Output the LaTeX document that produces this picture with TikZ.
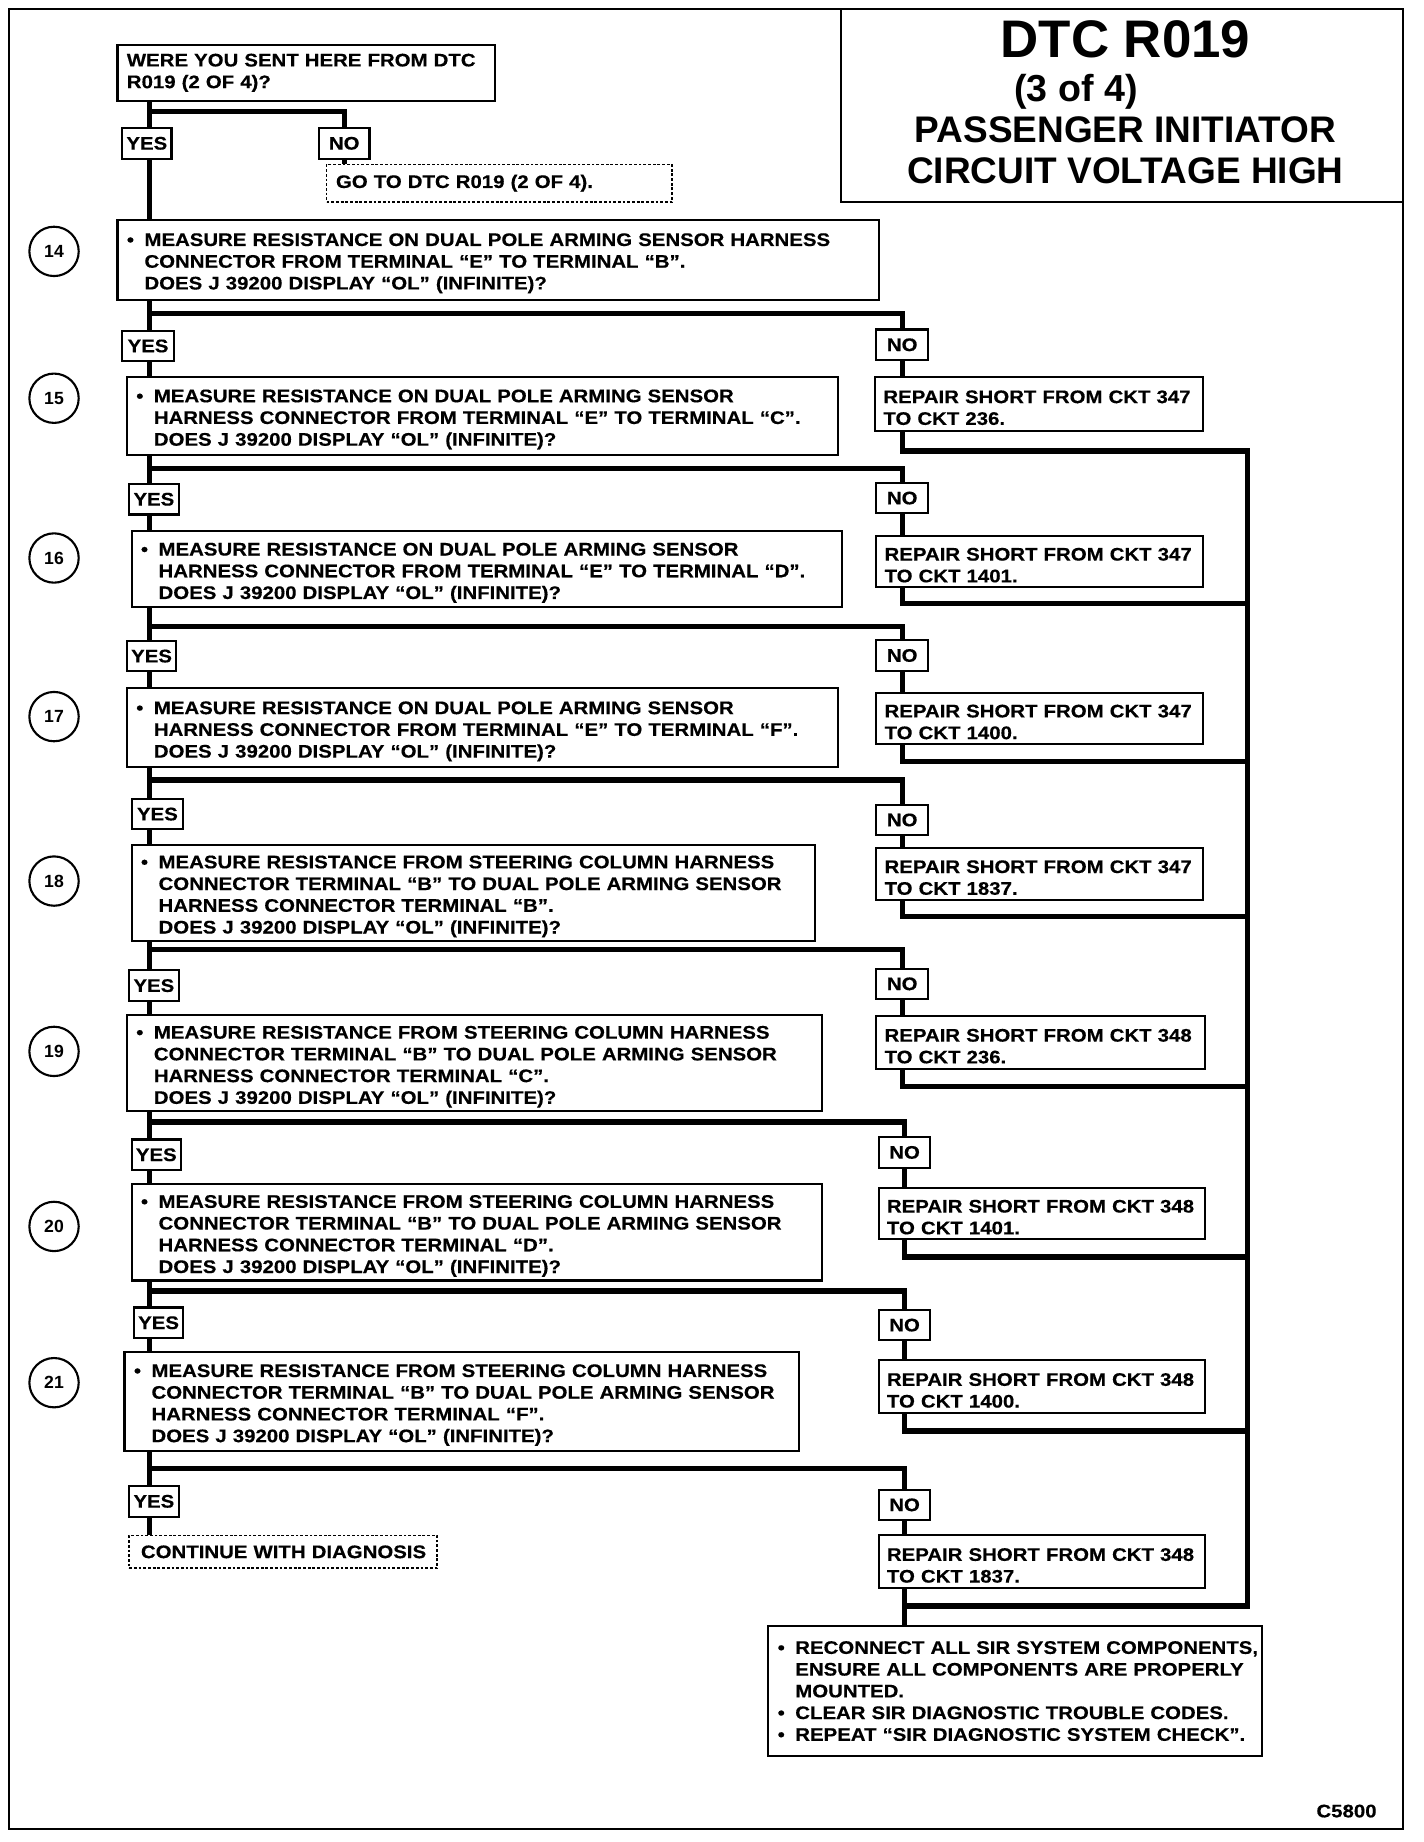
\documentclass[tikz,border=0pt]{standalone}
\usepackage{fontspec}
\setmainfont{Liberation Sans}[FakeStretch=1.12,FakeBold=0.4]
\newfontfamily\plainfont{Liberation Sans}
\usetikzlibrary{calc}
\newcommand\fs{\bfseries\fontsize{15.5}{18.5}\selectfont}
\newcommand\bul{\makebox[15pt][l]{\textbullet}}
\newcommand\ind{\hspace*{15pt}}
\newcommand\tp{\rule{0pt}{17pt}}
\begin{document}
\begin{tikzpicture}[x=1pt,y=-1pt,
  bx/.style={draw,line width=1.8pt,outer sep=0pt,anchor=north west,inner xsep=8pt,inner ysep=0pt,align=left,font=\fs},
  rbx/.style={bx,inner xsep=7pt},
  dbx/.style={bx,line width=1.4pt,dash pattern=on 2.4pt off 1.6pt},
  yn/.style={draw,line width=1.8pt,outer sep=0pt,inner sep=0pt,minimum width=42pt,minimum height=26pt,font=\fs},
  num/.style={draw,circle,line width=1.8pt,outer sep=0pt,inner sep=0pt,minimum size=42pt,font=\plainfont\bfseries\fontsize{15}{17}\selectfont},
  conn/.style={line width=4.5pt,line join=miter},
  tt/.style={anchor=base,inner sep=0pt,font=\plainfont\bfseries\fontsize{#1}{#1}\selectfont},
]
\useasboundingbox (0,0) rectangle (1212,1568);
\fill[white] (0,0) rectangle (1212,1568);
\draw[line width=1.8pt] (8,8) rectangle (1194,1557);

% title
\node[draw,line width=1.8pt,outer sep=0pt,anchor=north west,minimum width=478pt,minimum height=164pt,inner sep=0pt] (title) at (716,8) {};
\node[tt=45] (t1) at (958,49) {DTC R019};
\node[tt=32] (t2) at (916,86) {(3 of 4)};
\node[tt=31.5] (t3) at (958,121) {PASSENGER INITIATOR};
\node[tt=31.5] (t4) at (958,156) {CIRCUIT VOLTAGE HIGH};

% trunk x
\coordinate (T) at (127,0);

% start
\node[bx,text width=305pt,minimum height=48pt] (start) at (100,38) {\mbox{WERE YOU SENT HERE FROM DTC}\\\mbox{R019 (2 OF 4)?}};
\node[yn] (y0) at (125,122) {YES};
\node[yn,minimum width=43pt] (n0) at (293,122) {NO};
\node[dbx,text width=278pt,minimum height=32pt] (go) at (278,140) {\mbox{GO TO DTC R019 (2 OF 4).}};

% numbered circles
\node[num] (c14) at (46,214) {14};
\node[num] (c15) at (46,339) {15};
\node[num] (c16) at (46,475) {16};
\node[num] (c17) at (46,610) {17};
\node[num] (c18) at (46,750) {18};
\node[num] (c19) at (46,895) {19};
\node[num] (c20) at (46,1044) {20};
\node[num] (c21) at (46,1177) {21};

% step boxes
\node[bx,text width=632pt,minimum height=68pt] (b14) at (100,187) {\mbox{\tp\bul MEASURE RESISTANCE ON DUAL POLE ARMING SENSOR HARNESS}\\\mbox{\ind CONNECTOR FROM TERMINAL “E” TO TERMINAL “B”.}\\\mbox{\ind DOES J 39200 DISPLAY “OL” (INFINITE)?}};
\node[bx,text width=589pt,minimum height=66pt] (b15) at (108,321) {\mbox{\tp\bul MEASURE RESISTANCE ON DUAL POLE ARMING SENSOR}\\\mbox{\ind HARNESS CONNECTOR FROM TERMINAL “E” TO TERMINAL “C”.}\\\mbox{\ind DOES J 39200 DISPLAY “OL” (INFINITE)?}};
\node[bx,text width=589pt,minimum height=65pt] (b16) at (112,452) {\mbox{\tp\bul MEASURE RESISTANCE ON DUAL POLE ARMING SENSOR}\\\mbox{\ind HARNESS CONNECTOR FROM TERMINAL “E” TO TERMINAL “D”.}\\\mbox{\ind DOES J 39200 DISPLAY “OL” (INFINITE)?}};
\node[bx,text width=589pt,minimum height=67pt] (b17) at (108,586) {\mbox{\tp\bul MEASURE RESISTANCE ON DUAL POLE ARMING SENSOR}\\\mbox{\ind HARNESS CONNECTOR FROM TERMINAL “E” TO TERMINAL “F”.}\\\mbox{\ind DOES J 39200 DISPLAY “OL” (INFINITE)?}};
\node[bx,text width=566pt,minimum height=82pt] (b18) at (112,719) {\mbox{\tp\bul MEASURE RESISTANCE FROM STEERING COLUMN HARNESS}\\\mbox{\ind CONNECTOR TERMINAL “B” TO DUAL POLE ARMING SENSOR}\\\mbox{\ind HARNESS CONNECTOR TERMINAL “B”.}\\\mbox{\ind DOES J 39200 DISPLAY “OL” (INFINITE)?}};
\node[bx,text width=576pt,minimum height=82pt] (b19) at (108,864) {\mbox{\tp\bul MEASURE RESISTANCE FROM STEERING COLUMN HARNESS}\\\mbox{\ind CONNECTOR TERMINAL “B” TO DUAL POLE ARMING SENSOR}\\\mbox{\ind HARNESS CONNECTOR TERMINAL “C”.}\\\mbox{\ind DOES J 39200 DISPLAY “OL” (INFINITE)?}};
\node[bx,text width=572pt,minimum height=82pt] (b20) at (112,1008) {\mbox{\tp\bul MEASURE RESISTANCE FROM STEERING COLUMN HARNESS}\\\mbox{\ind CONNECTOR TERMINAL “B” TO DUAL POLE ARMING SENSOR}\\\mbox{\ind HARNESS CONNECTOR TERMINAL “D”.}\\\mbox{\ind DOES J 39200 DISPLAY “OL” (INFINITE)?}};
\node[bx,text width=558pt,minimum height=84pt] (b21) at (106,1151) {\mbox{\tp\bul MEASURE RESISTANCE FROM STEERING COLUMN HARNESS}\\\mbox{\ind CONNECTOR TERMINAL “B” TO DUAL POLE ARMING SENSOR}\\\mbox{\ind HARNESS CONNECTOR TERMINAL “F”.}\\\mbox{\ind DOES J 39200 DISPLAY “OL” (INFINITE)?}};

% yes / no boxes
\node[yn,minimum width=44pt] (y1) at (126,294.5) {YES};
\node[yn,minimum width=44pt] (n1) at (768,293.5) {NO};
\node[yn] (y2) at (131,425) {YES};
\node[yn,minimum width=44pt] (n2) at (768,424) {NO};
\node[yn] (y3) at (129,558.5) {YES};
\node[yn,minimum width=44pt] (n3) at (768,558) {NO};
\node[yn,minimum width=44pt] (y4) at (134,693) {YES};
\node[yn,minimum width=44pt] (n4) at (768,698) {NO};
\node[yn] (y5) at (131,839) {YES};
\node[yn,minimum width=44pt] (n5) at (768,837.5) {NO};
\node[yn] (y6) at (133,983) {YES};
\node[yn,minimum width=44pt] (n6) at (770,981) {NO};
\node[yn] (y7) at (135,1126) {YES};
\node[yn,minimum width=44pt] (n7) at (770,1128) {NO};
\node[yn] (y8) at (131,1278) {YES};
\node[yn,minimum width=44pt] (n8) at (770,1281) {NO};

% repair boxes
\node[rbx,text width=265pt,minimum height=46pt] (r15) at (745,321) {\mbox{\tp REPAIR SHORT FROM CKT 347}\\\mbox{TO CKT 236.}};
\node[rbx,text width=264pt,minimum height=44pt] (r16) at (746,456) {\mbox{\tp REPAIR SHORT FROM CKT 347}\\\mbox{TO CKT 1401.}};
\node[rbx,text width=264pt,minimum height=43pt] (r17) at (746,590) {\mbox{\tp REPAIR SHORT FROM CKT 347}\\\mbox{TO CKT 1400.}};
\node[rbx,text width=264pt,minimum height=44pt] (r18) at (746,722) {\mbox{\tp REPAIR SHORT FROM CKT 347}\\\mbox{TO CKT 1837.}};
\node[rbx,text width=266pt,minimum height=45pt] (r19) at (746,865) {\mbox{\tp REPAIR SHORT FROM CKT 348}\\\mbox{TO CKT 236.}};
\node[rbx,text width=264pt,minimum height=44pt] (r20) at (748,1011) {\mbox{\tp REPAIR SHORT FROM CKT 348}\\\mbox{TO CKT 1401.}};
\node[rbx,text width=264pt,minimum height=45pt] (r21) at (748,1158) {\mbox{\tp REPAIR SHORT FROM CKT 348}\\\mbox{TO CKT 1400.}};
\node[rbx,text width=264pt,minimum height=45pt] (r22) at (748,1307) {\mbox{\tp REPAIR SHORT FROM CKT 348}\\\mbox{TO CKT 1837.}};

\node[dbx,inner xsep=10pt,text width=242pt,minimum height=28pt] (cont) at (110,1307) {\mbox{CONTINUE WITH DIAGNOSIS}};

\node[bx,text width=404pt,minimum height=111pt] (final) at (654,1384) {\mbox{\bul RECONNECT ALL SIR SYSTEM COMPONENTS,}\\\mbox{\ind ENSURE ALL COMPONENTS ARE PROPERLY}\\\mbox{\ind MOUNTED.}\\\mbox{\bul CLEAR SIR DIAGNOSTIC TROUBLE CODES.}\\\mbox{\bul REPEAT “SIR DIAGNOSTIC SYSTEM CHECK”.}};

\node[anchor=base east,inner sep=0pt,font=\fs] (code) at (1172,1547) {C5800};

% branch levels
\coordinate (k0) at (0,95);
\coordinate (k1) at (0,267);
\coordinate (k2) at (0,399);
\coordinate (k3) at (0,533);
\coordinate (k4) at (0,664);
\coordinate (k5) at (0,808);
\coordinate (k6) at (0,955);
\coordinate (k7) at (0,1099);
\coordinate (k8) at (0,1250);
% right bus joints
\coordinate (j1) at (1062,384);
\coordinate (j2) at (1062,514);
\coordinate (j3) at (1062,648);
\coordinate (j4) at (1062,780);
\coordinate (j5) at (1062,925);
\coordinate (j6) at (1062,1070);
\coordinate (j7) at (1062,1218);
\coordinate (j8) at (1062,1367);

% trunk
\draw[conn] (start.south -| T) -- (y0.north -| T);
\draw[conn] (y0.south -| T) -- (b14.north -| T);
\draw[conn] (T |- k0) -| (n0.north);
\draw[conn] (n0.south) -- (n0.south |- go.north);

\draw[conn] (b14.south -| T) -- (y1.north -| T);
\draw[conn] (y1.south -| T) -- (b15.north -| T);
\draw[conn] (b15.south -| T) -- (y2.north -| T);
\draw[conn] (y2.south -| T) -- (b16.north -| T);
\draw[conn] (b16.south -| T) -- (y3.north -| T);
\draw[conn] (y3.south -| T) -- (b17.north -| T);
\draw[conn] (b17.south -| T) -- (y4.north -| T);
\draw[conn] (y4.south -| T) -- (b18.north -| T);
\draw[conn] (b18.south -| T) -- (y5.north -| T);
\draw[conn] (y5.south -| T) -- (b19.north -| T);
\draw[conn] (b19.south -| T) -- (y6.north -| T);
\draw[conn] (y6.south -| T) -- (b20.north -| T);
\draw[conn] (b20.south -| T) -- (y7.north -| T);
\draw[conn] (y7.south -| T) -- (b21.north -| T);
\draw[conn] (b21.south -| T) -- (y8.north -| T);
\draw[conn] (y8.south -| T) -- (cont.north -| T);

% NO branches
\draw[conn] (T |- k1) -| (n1.north);
\draw[conn] (T |- k2) -| (n2.north);
\draw[conn] (T |- k3) -| (n3.north);
\draw[conn] (T |- k4) -| (n4.north);
\draw[conn] (T |- k5) -| (n5.north);
\draw[conn] (T |- k6) -| (n6.north);
\draw[conn] (T |- k7) -| (n7.north);
\draw[conn] (T |- k8) -| (n8.north);

% NO to repair
\draw[conn] (n1.south) -- (n1.south |- r15.north);
\draw[conn] (n2.south) -- (n2.south |- r16.north);
\draw[conn] (n3.south) -- (n3.south |- r17.north);
\draw[conn] (n4.south) -- (n4.south |- r18.north);
\draw[conn] (n5.south) -- (n5.south |- r19.north);
\draw[conn] (n6.south) -- (n6.south |- r20.north);
\draw[conn] (n7.south) -- (n7.south |- r21.north);
\draw[conn] (n8.south) -- (n8.south |- r22.north);

% repair to right bus
\path (n8.south |- j8) coordinate (j8L);
\draw[conn] (r15.south -| n1.south) |- (j1) |- (j8L);
\draw[conn] (r16.south -| n2.south) |- (j2);
\draw[conn] (r17.south -| n3.south) |- (j3);
\draw[conn] (r18.south -| n4.south) |- (j4);
\draw[conn] (r19.south -| n5.south) |- (j5);
\draw[conn] (r20.south -| n6.south) |- (j6);
\draw[conn] (r21.south -| n7.south) |- (j7);
\draw[conn] (r22.south -| n8.south) -- (final.north -| n8.south);
\end{tikzpicture}
\end{document}
